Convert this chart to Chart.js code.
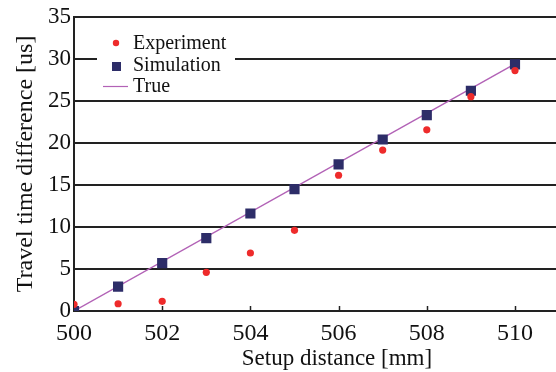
<!DOCTYPE html>
<html>
<head>
<meta charset="utf-8">
<script src="https://cdn.jsdelivr.net/npm/chart.js@4.4.0/dist/chart.umd.min.js"></script>
<style>
  html, body { margin: 0; background: #fff; }
  #wrap { width: 556px; height: 372px; }
</style>
</head>
<body>
<div id="wrap"><canvas id="chart" width="556" height="372"></canvas></div>
<script>
// data
const distances  = [500, 501, 502, 503, 504, 505, 506, 507, 508, 509, 510];
const experiment = [0.8, 0.86, 1.15, 4.6, 6.9, 9.6, 16.15, 19.15, 21.55, 25.5, 28.6];
const simulation = [0, 2.9, 5.7, 8.67, 11.6, 14.5, 17.45, 20.4, 23.3, 26.2, 29.35];
const trueX = [500, 510];
const trueY = [0, 29.4];
const xTicks = [500, 502, 504, 506, 508, 510];
const yTicks = [0, 5, 10, 15, 20, 25, 30, 35];

const SERIF = '"Liberation Serif", "Times New Roman", serif';
const RED = '#ee2b2b', NAVY = '#2d2d68', PURPLE = '#b262b6', GRID = '#222';

const pts = (xs, ys) => xs.map((x, i) => ({ x, y: ys[i] }));

// legend box, inward x ticks and x title
const decor = {
  id: 'decor',
  afterDraw(chart) {
    const { ctx, chartArea, scales: { x } } = chart;
    ctx.save();
    // small inward ticks on the x axis
    ctx.strokeStyle = GRID; ctx.lineWidth = 1.5;
    xTicks.slice(1).forEach(v => {
      const px = Math.round(x.getPixelForValue(v)) + 0.5;
      ctx.beginPath(); ctx.moveTo(px, chartArea.bottom); ctx.lineTo(px, chartArea.bottom - 5); ctx.stroke();
    });
    // x title (sits right of the plot centre in the original)
    ctx.fillStyle = '#111';
    ctx.font = '23px ' + SERIF;
    ctx.textAlign = 'center'; ctx.textBaseline = 'alphabetic';
    ctx.fillText('Setup distance [mm]', 337, 365);
    // legend
    ctx.fillStyle = '#fff';
    ctx.fillRect(97, 30, 138, 66);
    ctx.font = '20px ' + SERIF;
    ctx.textAlign = 'left'; ctx.textBaseline = 'middle';
    ctx.fillStyle = RED;
    ctx.beginPath(); ctx.arc(116, 43, 3.2, 0, Math.PI * 2); ctx.fill();
    ctx.fillStyle = NAVY;
    ctx.fillRect(112, 62, 9, 9);
    ctx.strokeStyle = PURPLE; ctx.lineWidth = 1.2;
    ctx.beginPath(); ctx.moveTo(103, 86.5); ctx.lineTo(128, 86.5); ctx.stroke();
    ctx.fillStyle = '#111';
    ctx.fillText('Experiment', 133, 44);
    ctx.fillText('Simulation', 133, 66);
    ctx.fillText('True', 133, 87);
    ctx.restore();
  }
};

new Chart(document.getElementById('chart'), {
  type: 'scatter',
  data: {
    datasets: [
      { label: 'Experiment', data: pts(distances, experiment), order: 0,
        pointStyle: 'circle', pointRadius: 3.6, backgroundColor: RED, borderWidth: 0 },
      { label: 'Simulation', data: pts(distances, simulation), order: 1,
        pointStyle: 'rect', pointRadius: 7.2, backgroundColor: NAVY, borderWidth: 0 },
      { label: 'True', data: pts(trueX, trueY), order: 2, showLine: true,
        pointRadius: 0, borderColor: PURPLE, borderWidth: 1.4 }
    ]
  },
  options: {
    responsive: false,
    animation: false,
    devicePixelRatio: 1,
    layout: { autoPadding: false, padding: { top: 15, right: 0, left: 0, bottom: 0 } },
    plugins: { legend: { display: false }, tooltip: { enabled: false } },
    scales: {
      x: {
        type: 'linear', min: 500, max: 510.93,
        afterBuildTicks: s => { s.ticks = xTicks.map(v => ({ value: v })); },
        afterFit: s => { s.height = 61; s.paddingLeft = 0; s.paddingRight = 0; },
        grid: { display: false },
        border: { display: true, color: GRID, width: 2 },
        ticks: { color: '#111', font: { family: SERIF, size: 24 }, padding: 0, maxRotation: 0 }
      },
      y: {
        type: 'linear', min: 0, max: 35,
        afterBuildTicks: s => { s.ticks = yTicks.map(v => ({ value: v })); },
        afterFit: s => { s.width = 74; },
        grid: { color: GRID, lineWidth: 2, drawTicks: false },
        border: { display: true, color: GRID, width: 2 },
        ticks: { color: '#111', font: { family: SERIF, size: 23 }, padding: 3 },
        title: { display: true, text: 'Travel time difference [us]', color: '#111',
                 font: { family: SERIF, size: 24 }, padding: { top: 11, bottom: 0 } }
      }
    }
  },
  plugins: [decor]
});
</script>
</body>
</html>
